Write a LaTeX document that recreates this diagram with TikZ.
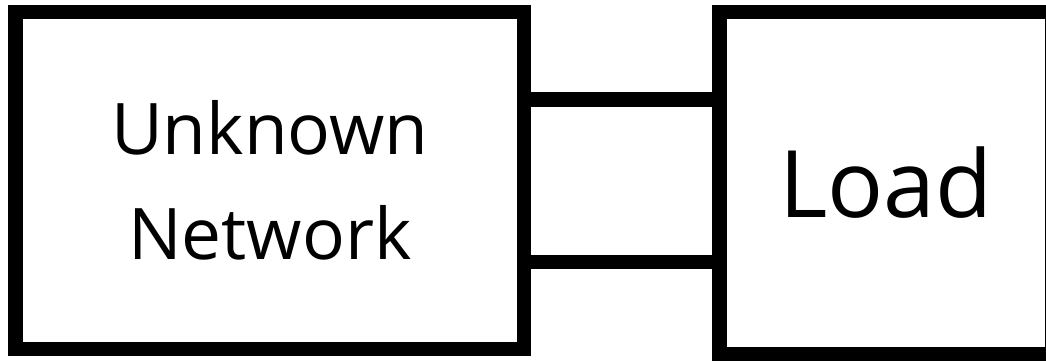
\documentclass[tikz,border=0pt]{standalone}
\usepackage{fontspec}
\setmainfont{Open Sans}
\usepackage{tikz}
\usetikzlibrary{positioning,calc}
\tikzset{
  blk/.style={draw=black, line width=0.29cm, fill=white, align=center,
              inner sep=0pt},
  wire/.style={draw=black, line width=0.29cm},
}

\begin{document}
\begin{tikzpicture}
\useasboundingbox (0,0) rectangle (20.92,-7.22);

\node[blk, minimum width=10.17cm, minimum height=6.74cm,
      font=\fontsize{40.5}{59.5}\selectfont] at (5.395,-3.61) (unk)
  {Unknown\\Network};
\node[blk, minimum width=6.65cm, minimum height=6.84cm,
      font=\fontsize{53}{64}\selectfont] at (17.715,-3.66) (load)
  {Load};

% two wires between the boxes
\foreach \dy in {1.62,-1.63}{
  \draw[wire] ([yshift=\dy cm]unk.east) -- ([yshift=\dy cm]unk.east -| load.west);}
\end{tikzpicture}
\end{document}
